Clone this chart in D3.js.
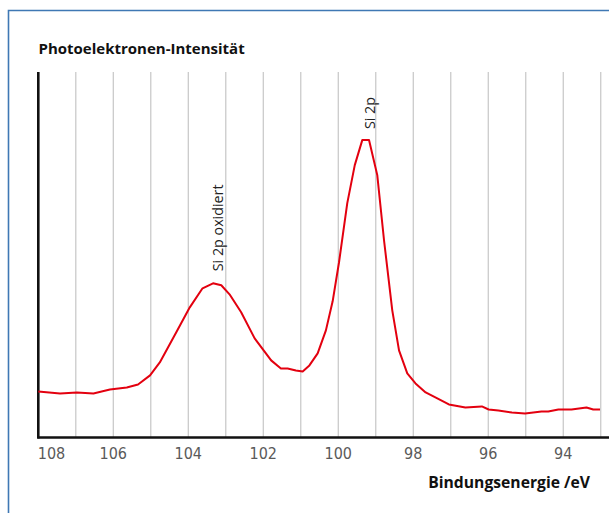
<!DOCTYPE html>
<html>
<head>
<meta charset="utf-8">
<script src="https://cdn.jsdelivr.net/npm/d3@7"></script>
<style>
  html, body { margin: 0; padding: 0; background: #fff; }
  svg { display: block; }
</style>
</head>
<body>
<div id="chart"></div>
<script>
// XPS spectrum, Si 2p region (binding energy in eV, intensity in arbitrary units)
const energy = [108.00, 107.42, 106.97, 106.53, 106.09, 105.64, 105.34, 105.02, 104.76, 104.32,
  103.96, 103.62, 103.34, 103.12, 102.90, 102.59, 102.23, 101.79, 101.53, 101.35,
  101.13, 100.95, 100.77, 100.55, 100.33, 100.15, 99.98, 99.76, 99.56, 99.36,
  99.18, 98.96, 98.78, 98.56, 98.38, 98.16, 97.94, 97.67, 97.41, 97.05,
  96.61, 96.17, 95.99, 95.73, 95.37, 95.02, 94.58, 94.40, 94.13, 93.78,
  93.38, 93.20, 93.02];
const intensity = [46, 44, 45, 44, 48, 50, 53, 62, 75, 105,
  130, 149, 154, 152, 143, 125, 99, 77, 69, 69,
  67, 66, 72, 84, 107, 136, 175, 234, 272, 297,
  297, 262, 197, 127, 87, 64, 54, 45, 40, 33,
  30, 31, 28, 27, 25, 24, 26, 26, 28, 28,
  30, 28, 28];
const gridValues = d3.range(107, 92, -1);
const tickValues = [108, 106, 104, 102, 100, 98, 96, 94];
const peakLabels = [
  { text: "Si 2p oxidiert", energy: 103.2, intensity: 166 },
  { text: "Si 2p", energy: 99.15, intensity: 308 }
];

const width = 609, height = 513;
const plotLeft = 38.3, plotRight = 612, plotTop = 72, plotBottom = 437.5;

const svg = d3.select("#chart").append("svg")
  .attr("width", width)
  .attr("height", height);

// frame
svg.append("path")
  .attr("d", "M8.5," + (height + 5) + " L8.5,10.5 L" + (width + 5) + ",10.5")
  .attr("fill", "none")
  .attr("stroke", "#3f78b4")
  .attr("stroke-width", 1.6);

const x = d3.scaleLinear().domain([108, 92.7]).range([plotLeft, plotRight]);
const y = d3.scaleLinear().domain([0, 365]).range([plotBottom, plotTop]);

// vertical grid
svg.append("g").selectAll("line")
  .data(gridValues).enter()
  .append("line")
  .attr("x1", d => x(d)).attr("x2", d => x(d))
  .attr("y1", plotTop).attr("y2", plotBottom)
  .attr("stroke", "#c6c6c6")
  .attr("stroke-width", 1.2);

// axes lines
svg.append("line")
  .attr("x1", plotLeft).attr("x2", plotLeft)
  .attr("y1", plotTop).attr("y2", plotBottom + 1)
  .attr("stroke", "#111").attr("stroke-width", 2.6);
svg.append("line")
  .attr("x1", plotLeft - 1).attr("x2", width + 5)
  .attr("y1", plotBottom).attr("y2", plotBottom)
  .attr("stroke", "#111").attr("stroke-width", 2.6);

// tick labels
svg.append("g").selectAll("text")
  .data(tickValues).enter()
  .append("text")
  .attr("x", d => d === 108 ? x(d) - 0.5 : x(d))
  .attr("y", 458.5)
  .attr("text-anchor", d => d === 108 ? "start" : "middle")
  .attr("font-family", "'Liberation Sans Narrow', 'DejaVu Sans Condensed', 'Open Sans', sans-serif")
  .attr("font-size", 16)
  .attr("fill", "#5a5a5a")
  .text(d => d);

// spectrum
const line = d3.line()
  .x((d, i) => x(energy[i]))
  .y(d => y(d));

svg.append("path")
  .datum(intensity)
  .attr("d", line)
  .attr("fill", "none")
  .attr("stroke", "#e3000f")
  .attr("stroke-width", 2)
  .attr("stroke-linejoin", "round");

// peak labels
svg.append("g").selectAll("text")
  .data(peakLabels).enter()
  .append("text")
  .attr("transform", d => "translate(" + (x(d.energy) + 5) + "," + y(d.intensity) + ") rotate(-90)")
  .attr("font-family", "'Open Sans', 'Noto Sans', sans-serif")
  .attr("font-size", 14.3)
  .attr("fill", "#222")
  .text(d => d.text);

// titles
svg.append("text")
  .attr("x", 38.5).attr("y", 54)
  .attr("font-family", "'Open Sans', 'Noto Sans', sans-serif")
  .attr("font-weight", "bold")
  .attr("font-size", 15)
  .attr("fill", "#111")
  .text("Photoelektronen-Intensität");

svg.append("text")
  .attr("x", 590).attr("y", 488)
  .attr("text-anchor", "end")
  .attr("font-family", "'Open Sans', 'Noto Sans', sans-serif")
  .attr("font-weight", "bold")
  .attr("font-size", 15.7)
  .attr("fill", "#111")
  .text("Bindungsenergie /eV");
</script>
</body>
</html>
